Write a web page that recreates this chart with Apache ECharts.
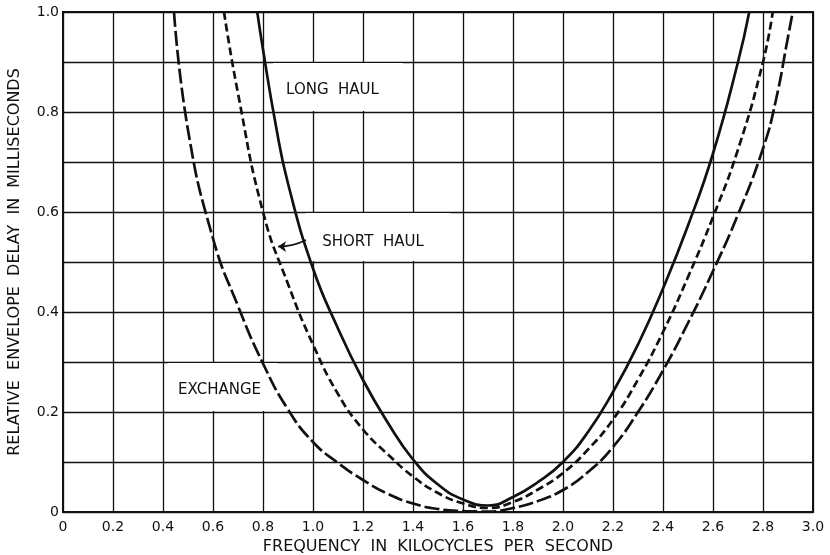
<!DOCTYPE html>
<html>
<head>
<meta charset="utf-8">
<script src="https://cdn.jsdelivr.net/npm/echarts@6/dist/echarts.min.js"></script>
<style>
  html, body { margin: 0; padding: 0; background: #fff; }
  #chart { width: 830px; height: 555px; }
</style>
</head>
<body>
<div id="chart"></div>
<script>
// frequency in kc, delay in ms
const longHaulFreq = [0.777, 0.8, 0.85, 0.9, 1.0, 1.1, 1.2, 1.3, 1.4, 1.5, 1.6, 1.7,
  1.8, 1.9, 2.0, 2.1, 2.2, 2.3, 2.4, 2.5, 2.6, 2.7, 2.745];
const longHaulDelay = [1.0, 0.925, 0.777, 0.657, 0.487, 0.367, 0.264, 0.178, 0.105, 0.055, 0.025, 0.013,
  0.03, 0.06, 0.1, 0.16, 0.24, 0.335, 0.447, 0.573, 0.717, 0.9, 1.0];

const shortHaulFreq = [0.644, 0.7, 0.8, 0.9, 1.0, 1.1, 1.2, 1.3, 1.4, 1.5, 1.6, 1.7,
  1.8, 1.9, 2.0, 2.1, 2.2, 2.3, 2.4, 2.5, 2.6, 2.7, 2.8, 2.839];
const shortHaulDelay = [1.0, 0.837, 0.6, 0.456, 0.335, 0.236, 0.165, 0.115, 0.071, 0.038, 0.017, 0.008,
  0.02, 0.045, 0.078, 0.125, 0.185, 0.265, 0.36, 0.47, 0.59, 0.725, 0.9, 1.0];

const exchangeFreq = [0.444, 0.5, 0.6, 0.7, 0.8, 0.9, 1.0, 1.1, 1.2, 1.3, 1.4, 1.5, 1.6, 1.7,
  1.8, 1.9, 2.0, 2.1, 2.2, 2.3, 2.4, 2.5, 2.6, 2.7, 2.8, 2.85, 2.9, 2.919];
const exchangeDelay = [1.0, 0.764, 0.547, 0.412, 0.297, 0.205, 0.14, 0.098, 0.064, 0.036, 0.017, 0.006, 0.002, 0.001,
  0.008, 0.022, 0.044, 0.08, 0.13, 0.2, 0.283, 0.378, 0.482, 0.595, 0.727, 0.82, 0.95, 1.0];

const INK = '#111';
const FONT = 'DejaVu Sans';

const chart = echarts.init(document.getElementById('chart'), null, { renderer: 'canvas' });

const pairs = (xs, ys) => xs.map((x, i) => [x, ys[i]]);

const tickFmt = (v) => (Math.abs(v) < 1e-9 ? '0' : v.toFixed(1));

const curve = (name, xs, ys, dash) => ({
  name,
  type: 'line',
  data: pairs(xs, ys),
  smooth: 0.5,
  symbol: 'none',
  clip: true,
  z: 3,
  lineStyle: { color: INK, width: 2.7, type: dash, cap: 'butt' },
});

const option = {
  animation: false,
  backgroundColor: '#fff',
  grid: {
    left: 63, right: 17, top: 12, bottom: 43,
    outerBoundsMode: 'none',
    show: true, borderColor: INK, borderWidth: 2,
  },
  xAxis: {
    type: 'value',
    min: 0,
    max: 3,
    interval: 0.2,
    name: 'FREQUENCY  IN  KILOCYCLES  PER  SECOND',
    nameLocation: 'middle',
    nameGap: 26,
    nameTextStyle: { color: INK, fontFamily: FONT, fontSize: 16 },
    axisLine: { lineStyle: { color: INK, width: 2 } },
    axisTick: { show: false },
    axisLabel: { color: INK, fontFamily: FONT, fontSize: 14, margin: 8, formatter: tickFmt },
    splitLine: { lineStyle: { color: INK, width: 1.3 } },
  },
  yAxis: {
    type: 'value',
    min: 0,
    max: 1,
    interval: 0.1,
    name: 'RELATIVE  ENVELOPE  DELAY  IN  MILLISECONDS',
    nameLocation: 'middle',
    nameGap: 40,
    nameTextStyle: { color: INK, fontFamily: FONT, fontSize: 16 },
    axisLine: { lineStyle: { color: INK, width: 2 } },
    axisTick: { show: false },
    axisLabel: {
      color: INK, fontFamily: FONT, fontSize: 14, margin: 4,
      formatter: (v) => (Math.round(v * 10) % 2 === 0 ? tickFmt(v) : ''),
    },
    splitLine: { lineStyle: { color: INK, width: 1.3 } },
  },
  series: [
    curve('LONG HAUL', longHaulFreq, longHaulDelay, 'solid'),
    curve('SHORT HAUL', shortHaulFreq, shortHaulDelay, [8, 4]),
    curve('EXCHANGE', exchangeFreq, exchangeDelay, [15, 4]),
    {
      // pointer from the SHORT HAUL label
      type: 'lines',
      coordinateSystem: 'cartesian2d',
      z: 4,
      symbol: ['none', 'arrow'],
      symbolSize: 8,
      lineStyle: { color: INK, opacity: 1, width: 1.4, curveness: 0.12 },
      data: [{ coords: [[0.972, 0.544], [0.86, 0.531]] }],
    },
  ],
};

chart.setOption(option);

// white patches behind the curve names, in data coordinates
const patches = [
  { text: 'LONG  HAUL', at: [1.078, 0.844], box: [[0.84, 0.898], [1.36, 0.802]] },
  { text: 'SHORT  HAUL', at: [1.24, 0.54], box: [[0.97, 0.598], [1.55, 0.502]] },
  { text: 'EXCHANGE', at: [0.626, 0.244], box: [[0.42, 0.298], [0.86, 0.202]] },
];

const graphic = [];
patches.forEach((p) => {
  const a = chart.convertToPixel({ gridIndex: 0 }, p.box[0]);
  const b = chart.convertToPixel({ gridIndex: 0 }, p.box[1]);
  graphic.push({
    type: 'rect',
    z: 1,
    shape: { x: a[0], y: a[1], width: b[0] - a[0], height: b[1] - a[1] },
    style: { fill: '#fff' },
    silent: true,
  });
  const c = chart.convertToPixel({ gridIndex: 0 }, p.at);
  graphic.push({
    type: 'text',
    z: 5,
    x: c[0],
    y: c[1],
    style: {
      text: p.text, fill: INK, font: `15px "${FONT}"`,
      align: 'center', verticalAlign: 'middle',
    },
    silent: true,
  });
});

chart.setOption({ graphic });
</script>
</body>
</html>
